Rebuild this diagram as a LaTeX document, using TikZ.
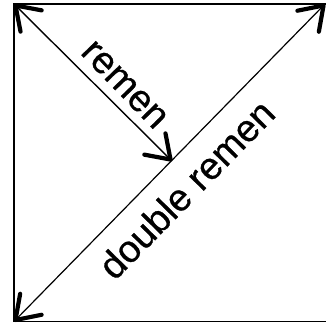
\documentclass[tikz,border=0pt]{standalone}
\usepackage{fontspec}
\setmainfont{Liberation Sans}
\newfontfamily\lblfont{Liberation Sans}[FakeBold=0.7]
\usetikzlibrary{arrows.meta}
\tikzset{mybarb/.tip={Straight Barb[length=22pt,width=30pt,line width=4.2pt,round]}}
\begin{document}
\begin{tikzpicture}[x=1pt,y=-1pt,
  lbl/.style={font=\lblfont\fontsize{38}{40}\selectfont, inner sep=0pt, anchor=base}]
\useasboundingbox (0,0) rectangle (326,324);
\coordinate (tl) at (14,4);
\coordinate (bl) at (14,321.5);
\coordinate (tr) at (325,4);
\coordinate (br) at (326.5,321.5);
\coordinate (mid) at (172,161);
\draw[line width=1.8pt] (tl) rectangle (br);
\draw[line width=1.2pt, mybarb-mybarb] (bl) -- (tr);
\draw[line width=1.4pt, mybarb-mybarb] (tl) -- (mid);
\node[lbl, rotate=-46] (remen) at (117,92) {remen};
\node[lbl, rotate=45.6] (dremen) at (196,198.5) {double remen};
\end{tikzpicture}
\end{document}
